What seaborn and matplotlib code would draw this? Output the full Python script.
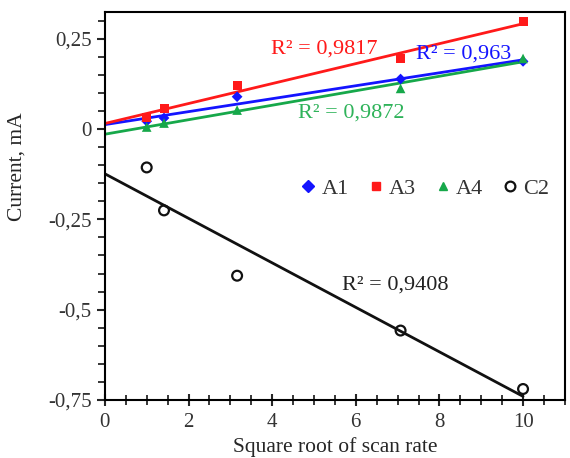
import numpy as np
import pandas as pd
import seaborn as sns
import matplotlib.pyplot as plt
from matplotlib.ticker import MultipleLocator, FixedLocator
from matplotlib.lines import Line2D

# square root of scan rate (sqrt of 1, 2, 10, 50, 100)
x_vals = [1.0, 1.414, 3.162, 7.071, 10.0]

a1 = [0.022, 0.031, 0.090, 0.139, 0.188]
a3 = [0.033, 0.056, 0.122, 0.196, 0.298]
a4 = [0.006, 0.017, 0.053, 0.113, 0.196]
c2 = [-0.106, -0.225, -0.406, -0.558, -0.720]

series_names = ["A1", "A3", "A4", "C2"]
r2_labels = ["R² = 0,963", "R² = 0,9817", "R² = 0,9872", "R² = 0,9408"]
y_ticks = [0.25, 0, -0.25, -0.5, -0.75]
y_ticklabels = ["0,25", "0", "-0,25", "-0,5", "-0,75"]

colors = {"A1": "#1414ff", "A3": "#ff1a1a", "A4": "#16a84a", "C2": "#111111"}
markers = {"A1": "D", "A3": "s", "A4": "^", "C2": "o"}
msizes = {"A1": 30, "A3": 42, "A4": 48, "C2": 50}

df = pd.DataFrame({
    "x": x_vals * 4,
    "y": a1 + a3 + a4 + c2,
    "series": np.repeat(series_names, len(x_vals)),
})

sns.set_theme(style="ticks")
plt.rcParams["font.family"] = ["Liberation Serif", "DejaVu Serif"]
plt.rcParams["text.color"] = "#333333"
plt.rcParams["xtick.labelcolor"] = "#333333"
plt.rcParams["ytick.labelcolor"] = "#333333"

fig = plt.figure(figsize=(5.7, 4.58), dpi=100)
ax = fig.add_axes([0.184, 0.127, 0.807, 0.847])

# linear trendlines, extended back to x = 0
x_fit = np.array([0.0, 10.0])
for name in series_names:
    sub = df[df.series == name]
    k, b = np.polyfit(sub.x, sub.y, 1)
    fit = pd.DataFrame({"x": x_fit, "y": k * x_fit + b})
    sns.lineplot(data=fit, x="x", y="y", color=colors[name], lw=2, ax=ax, zorder=2)

for name in series_names:
    sub = df[df.series == name]
    if name == "C2":
        ax.scatter(sub.x, sub.y, s=msizes[name], marker="o", facecolors="none",
                   edgecolors=colors[name], linewidths=1.6, zorder=3)
    else:
        sns.scatterplot(data=sub, x="x", y="y", color=colors[name], marker=markers[name],
                        s=msizes[name], edgecolor="none", ax=ax, zorder=3)

# R² annotations
ax.text(5.24, 0.222, r2_labels[1], color=colors["A3"], fontsize=16, ha="center", va="center")
ax.text(7.45, 0.207, r2_labels[0], color=colors["A1"], fontsize=16, ha="left", va="center")
ax.text(5.9, 0.044, r2_labels[2], color="#2fb35a", fontsize=16, ha="center", va="center")
ax.text(6.95, -0.431, r2_labels[3], color="#222222", fontsize=16, ha="center", va="center")

ax.set_xlim(0, 11)
ax.set_ylim(-0.75, 0.325)
ax.xaxis.set_major_locator(MultipleLocator(2))
ax.xaxis.set_minor_locator(MultipleLocator(0.5))
ax.yaxis.set_major_locator(FixedLocator(y_ticks))
ax.set_yticklabels(y_ticklabels)
ax.yaxis.set_minor_locator(MultipleLocator(0.05))

ax.tick_params(axis="x", which="major", direction="inout", length=9, width=1.5, labelsize=15, pad=5)
ax.tick_params(axis="x", which="minor", direction="inout", length=7, width=1.3)
ax.tick_params(axis="y", which="major", direction="out", length=6, width=1.5, labelsize=15)
ax.tick_params(axis="y", which="minor", direction="out", length=5, width=1.3)
for sp in ax.spines.values():
    sp.set_visible(True)
    sp.set_linewidth(1.5)
    sp.set_color("black")

ax.set_xlabel("Square root of scan rate", fontsize=15.5, labelpad=4)
ax.set_ylabel("Current, mA", fontsize=15.5)
ax.yaxis.set_label_coords(-0.17, 0.6)

handles = []
for name in series_names:
    if name == "C2":
        h = Line2D([], [], ls="none", marker="o", mfc="none", mec=colors[name], mew=1.6, ms=7)
    else:
        h = Line2D([], [], ls="none", marker=markers[name], color=colors[name], ms=6)
    handles.append(h)
ax.legend(handles, series_names, loc="center", bbox_to_anchor=(0.69, 0.545), ncol=4,
          frameon=False, fontsize=16, handletextpad=0.0, columnspacing=0.6, handlelength=1.2)

fig.savefig("out.png", dpi=100)
